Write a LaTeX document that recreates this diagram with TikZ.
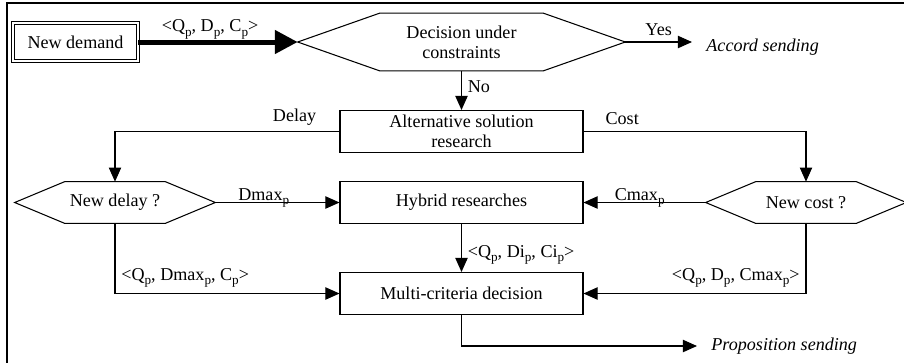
\documentclass[tikz,border=0pt]{standalone}
\usepackage{fontspec}
\setmainfont{Liberation Serif}
\usepackage{tikz}
\usetikzlibrary{
	arrows.meta,
	positioning
}
\newcommand{\pidx}{\raisebox{-0.5ex}{\fontsize{7.5}{8}\selectfont p}}
\tikzset{
  % arrow
	flwra/.style   ={-{Triangle[length=8pt,width=7pt]}, line width=0.6pt}, % right arrow
	flwbra/.style  ={-{Triangle[length=13pt,width=13pt]}, line width=0.1cm}, % bold ra
	flwline/.style ={line width=0.6pt},
  % node
	flwbox/.style  ={draw, line width=0.6pt, minimum width=4.86cm, minimum height=0.84cm, align=center, inner sep=1pt},
	flwdbox/.style ={draw, double, double distance=1.2pt, line width=0.5pt, minimum width=2.5cm, minimum height=0.76cm},
	flwhex/.style  ={minimum width=4cm, minimum height=0.82cm, align=center, inner sep=0pt},
	flwout/.style  ={font=\fontsize{10.3}{11.5}\selectfont\itshape, inner xsep=8pt, anchor=west}
}
\begin{document}
\begin{tikzpicture}[x=0.02cm, y=-0.02cm, font=\fontsize{10.3}{11.5}\selectfont]
	\useasboundingbox (0,0) rectangle (904,363);
	\draw[flwline] (904,3) -| (7,363);
	% nodes
	\node[flwdbox] (demand) at (75.5,42) {New demand};
	\node[flwhex, minimum width=6.54cm, minimum height=1.14cm] (dec) at (461.5,42) {Decision under\\constraints};
	\node[flwbox] (alt) at (461.5,131.5) {Alternative solution\\research};
	\node[flwhex] (ndelay) at (115,202.5) {New delay ?};
	\node[flwbox] (hyb) at (461.5,202.5) {Hybrid researches};
	\node[flwhex] (ncost) at (806,202.5) {New cost ?};
	\node[flwbox] (multi) at (461.5,293.5) {Multi-criteria decision};
	\node[flwout] (accord) at (692,47) {Accord sending};
	\node[flwout] (prop) at (697,346) {Proposition sending};
	% hexagons
	\draw[flwline] (dec.west) -- ([xshift=1.64cm]dec.north west) -- ([xshift=-1.64cm]dec.north east) -- (dec.east)
		-- ([xshift=-1.64cm]dec.south east) -- ([xshift=1.64cm]dec.south west) -- cycle;
	\draw[flwline] (ndelay.west) -- ([xshift=1cm]ndelay.north west) -- ([xshift=-1cm]ndelay.north east) -- (ndelay.east)
		-- ([xshift=-1cm]ndelay.south east) -- ([xshift=1cm]ndelay.south west) -- cycle;
	\draw[flwline] (ncost.west) -- ([xshift=1cm]ncost.north west) -- ([xshift=-1cm]ncost.north east) -- (ncost.east)
		-- ([xshift=-1cm]ncost.south east) -- ([xshift=1cm]ncost.south west) -- cycle;
	% connectors
	\draw[flwbra] (demand.east) -- node[above=-3pt, pos=0.45] {<Q\pidx, D\pidx, C\pidx>} (dec.west);
	\draw[flwra] (dec.east) -- node[above] {Yes} (dec.east -| accord.west);
	\draw[flwra] (dec.south) -- node[right, pos=0.4] {No} (alt.north);
	\draw[flwra] (alt.west) -| node[above, pos=0.1] {Delay} (ndelay.north);
	\draw[flwra] (alt.east) -| node[above, pos=0.087] {Cost} (ncost.north);
	\draw[flwra] (ndelay.east) -- node[pos=0.39, anchor=base, yshift=1pt] {Dmax\pidx} (hyb.west);
	\draw[flwra] (ncost.west) -- node[pos=0.54, anchor=base, yshift=1pt] {Cmax\pidx} (hyb.east);
	\draw[flwra] (hyb.south) -- node[right, pos=0.65] {<Q\pidx, Di\pidx, Ci\pidx>} (multi.north);
	\draw[flwra] (ndelay.south) |- node[above right, pos=0.5] {<Q\pidx, Dmax\pidx, C\pidx>} (multi.west);
	\draw[flwra] (ncost.south) |- node[above left, pos=0.5] {<Q\pidx, D\pidx, Cmax\pidx>} (multi.east);
	\draw[flwra] (multi.south) |- (prop.west);
\end{tikzpicture}
\end{document}
